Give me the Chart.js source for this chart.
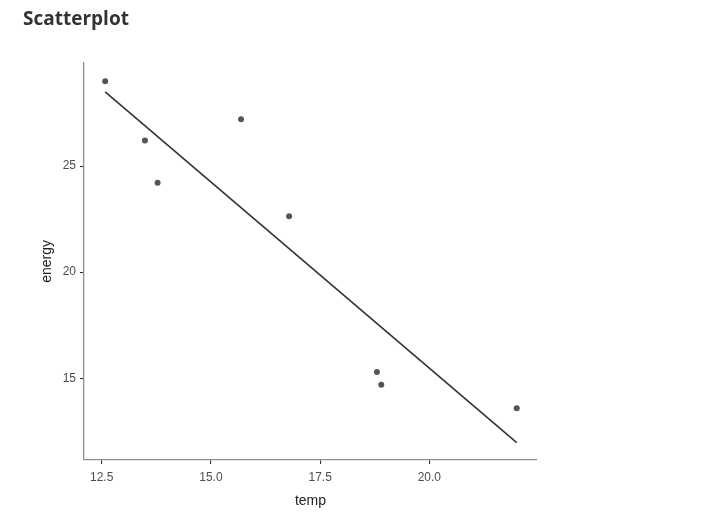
<!DOCTYPE html>
<html><head><meta charset="utf-8">
<script src="https://cdn.jsdelivr.net/npm/chart.js@4.4.0/dist/chart.umd.min.js"></script>
<style>html,body{margin:0;padding:0;background:#fff;} #wrap{width:702px;height:528px;}</style>
</head><body><div id="wrap"><canvas id="c" width="702" height="528"></canvas></div>
<script>
// data
const temp = [12.58, 13.49, 13.78, 15.69, 16.79, 18.80, 18.90, 22.00];
const energy = [29.0, 26.21, 24.21, 27.21, 22.64, 15.30, 14.70, 13.59];
const fitTemp = [12.58, 22.00];
const fitEnergy = [28.50, 11.97];
const xTicks = [12.5, 15.0, 17.5, 20.0];
const yTicks = [15, 20, 25];

const pts = temp.map((t, i) => ({x: t, y: energy[i]}));
const fit = fitTemp.map((t, i) => ({x: t, y: fitEnergy[i]}));

Chart.defaults.font.family = "'Liberation Sans', Arial, sans-serif";

new Chart(document.getElementById('c'), {
  type: 'scatter',
  data: {
    datasets: [
      {data: fit, showLine: true, borderColor: '#333333', borderWidth: 1.6, pointRadius: 0, fill: false, order: 2},
      {data: pts, pointRadius: 3, pointBackgroundColor: '#555555', pointBorderWidth: 0, borderColor: '#555555', order: 1}
    ]
  },
  options: {
    responsive: false,
    animation: false,
    devicePixelRatio: 1,
    layout: {padding: {left: 23, right: 165, top: 0, bottom: 0}},
    plugins: {
      legend: {display: false},
      tooltip: {enabled: false},
      title: {
        display: true, text: 'Scatterplot', align: 'start', color: '#333333',
        font: {family: "'Open Sans', sans-serif", size: 19, weight: 'bold'},
        padding: {top: 8, bottom: 31.9}
      }
    },
    scales: {
      x: {
        type: 'linear', min: 12.095, max: 22.464,
        afterBuildTicks: s => { s.ticks = xTicks.map(v => ({value: v})); },
        afterFit: s => { s.height = 68; },
        ticks: {color: '#4d4d4d', font: {size: 12}, padding: 6, callback: v => v.toFixed(1), maxRotation: 0},
        grid: {display: true, drawOnChartArea: false, drawTicks: true, tickLength: 4, color: '#333333', lineWidth: 1.1},
        border: {display: true, color: '#8f8f8f', width: 1.3},
        title: {display: true, text: 'temp', color: '#222222', font: {size: 14}, padding: {top: 0, bottom: 18.8}}
      },
      y: {
        type: 'linear', min: 11.15, max: 29.87,
        afterBuildTicks: s => { s.ticks = yTicks.map(v => ({value: v})); },
        afterFit: s => { s.width = 61; },
        ticks: {color: '#4d4d4d', font: {size: 12}, padding: 4, callback: v => String(v)},
        grid: {display: true, drawOnChartArea: false, drawTicks: true, tickLength: 4, color: '#333333', lineWidth: 1.1},
        border: {display: true, color: '#8f8f8f', width: 1.3},
        title: {display: true, text: 'energy', color: '#222222', font: {size: 14}, padding: {top: 15.6, bottom: 0}}
      }
    }
  }
});
</script>
</body></html>
